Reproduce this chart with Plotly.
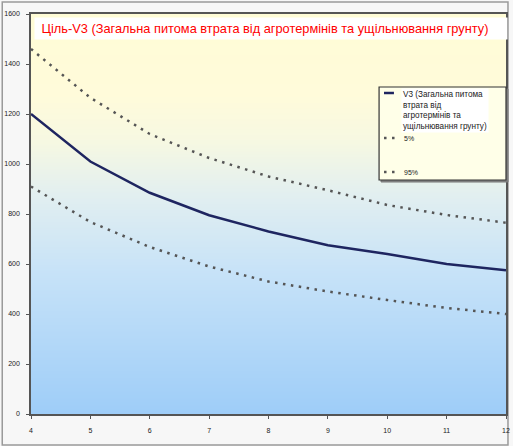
import numpy as np
import plotly.graph_objects as go

x_vals = [4, 5, 6, 7, 8, 9, 10, 11, 12]
v3 = [1200, 1010, 885, 795, 730, 675, 640, 600, 575]
p95 = [1460, 1265, 1120, 1024, 950, 895, 836, 796, 765]
p5 = [910, 768, 668, 590, 530, 490, 456, 424, 400]

title_text = "Ціль-V3 (Загальна питома втрата від агротермінів та ущільнювання грунту)"
v3_name = "V3 (Загальна питома<br>втрата від<br>агротермінів та<br>ущільнювання грунту)"
names = [v3_name, "5%", "95%"]

L, R, T, B = 31, 3, 14, 32
W, H = 513, 446
pw, ph = W - L - R, H - T - B


def px(xp):
    return (xp - L) / pw


def py(yp):
    return (H - B - yp) / ph


fig = go.Figure()

# gradient background
gy = np.linspace(0, 1600, 81)
gz = [[v, v] for v in gy]
fig.add_trace(go.Heatmap(
    x=[4, 12], y=gy, z=gz, zsmooth="best", showscale=False, hoverinfo="skip",
    zmin=0, zmax=1600,
    colorscale=[[0.0, "#9ECDF8"], [0.35, "#C6E2F8"], [0.55, "#E2EFF0"],
                [0.68, "#F6F8E2"], [0.8, "#FFFBDA"], [1.0, "#FFFCD6"]],
    showlegend=False,
))

solid = dict(color="#1E2560", width=2.5)
dotted = dict(color="#555555", width=2.5, dash="2.5px,5.5px")
fig.add_trace(go.Scatter(x=x_vals, y=v3, mode="lines", name=names[0], line=solid))
fig.add_trace(go.Scatter(x=x_vals, y=p5, mode="lines", name=names[1], line=dotted))
fig.add_trace(go.Scatter(x=x_vals, y=p95, mode="lines", name=names[2], line=dotted))

axis_common = dict(showgrid=True, gridcolor="rgba(190,190,170,0.45)", gridwidth=1,
                   zeroline=False, showline=True, linecolor="#555555", linewidth=1.5,
                   mirror=True, ticks="outside", ticklen=3, tickcolor="#555555",
                   tickfont=dict(size=7, color="#222222"))

fig.update_layout(
    width=W, height=H,
    margin=dict(l=L, r=R, t=T, b=B),
    paper_bgcolor="#F7F7F7",
    plot_bgcolor="#FFFFFF",
    font=dict(family="Liberation Sans, Arial, sans-serif", color="#222222"),
    xaxis=dict(range=[4, 12], dtick=1, tick0=4, ticklabelstandoff=6, **axis_common),
    yaxis=dict(range=[0, 1600], dtick=200, tick0=0, ticklabelstandoff=5, **axis_common),
    showlegend=False,
)

# title box
fig.add_annotation(xref="paper", yref="paper", x=px(34), y=py(17),
                   xanchor="left", yanchor="top", showarrow=False,
                   text="&nbsp;" + title_text, bgcolor="#FFFFFF", width=466, align="left",
                   font=dict(size=12.8, color="#FF0000", family="Liberation Sans, Arial, sans-serif"),
                   borderpad=3)

# legend (drawn manually to match the original layout)
fig.add_shape(type="rect", xref="paper", yref="paper",
              x0=px(384), x1=px(512), y0=py(182), y1=py(89),
              line=dict(color="#777777", width=1), fillcolor="#888888")
fig.add_shape(type="rect", xref="paper", yref="paper",
              x0=px(382), x1=px(510), y0=py(180), y1=py(87),
              line=dict(color="#333333", width=1.2), fillcolor="#FFFFE8")
fig.add_shape(type="line", xref="paper", yref="paper",
              x0=px(387), x1=px(397), y0=py(93), y1=py(93), line=solid)
for yy in (138, 172):
    fig.add_shape(type="line", xref="paper", yref="paper",
                  x0=px(387), x1=px(402), y0=py(yy), y1=py(yy), line=dotted)
fig.add_annotation(xref="paper", yref="paper", x=px(404), y=py(88),
                   xanchor="left", yanchor="top", showarrow=False, align="left",
                   text=names[0], bgcolor="#FFFFFF",
                   font=dict(size=8.2, color="#222222"), borderpad=1)
for nm, yy in ((names[1], 138), (names[2], 172)):
    fig.add_annotation(xref="paper", yref="paper", x=px(405), y=py(yy),
                       xanchor="left", yanchor="middle", showarrow=False, align="left",
                       text=nm, font=dict(size=7, color="#222222"))

# outer border
fig.add_shape(type="rect", xref="paper", yref="paper",
              x0=px(2), x1=px(W - 1), y0=py(H - 1), y1=py(2),
              line=dict(color="#9A9A9A", width=1.5), fillcolor="rgba(0,0,0,0)", layer="below")

fig.write_html("out.html")
